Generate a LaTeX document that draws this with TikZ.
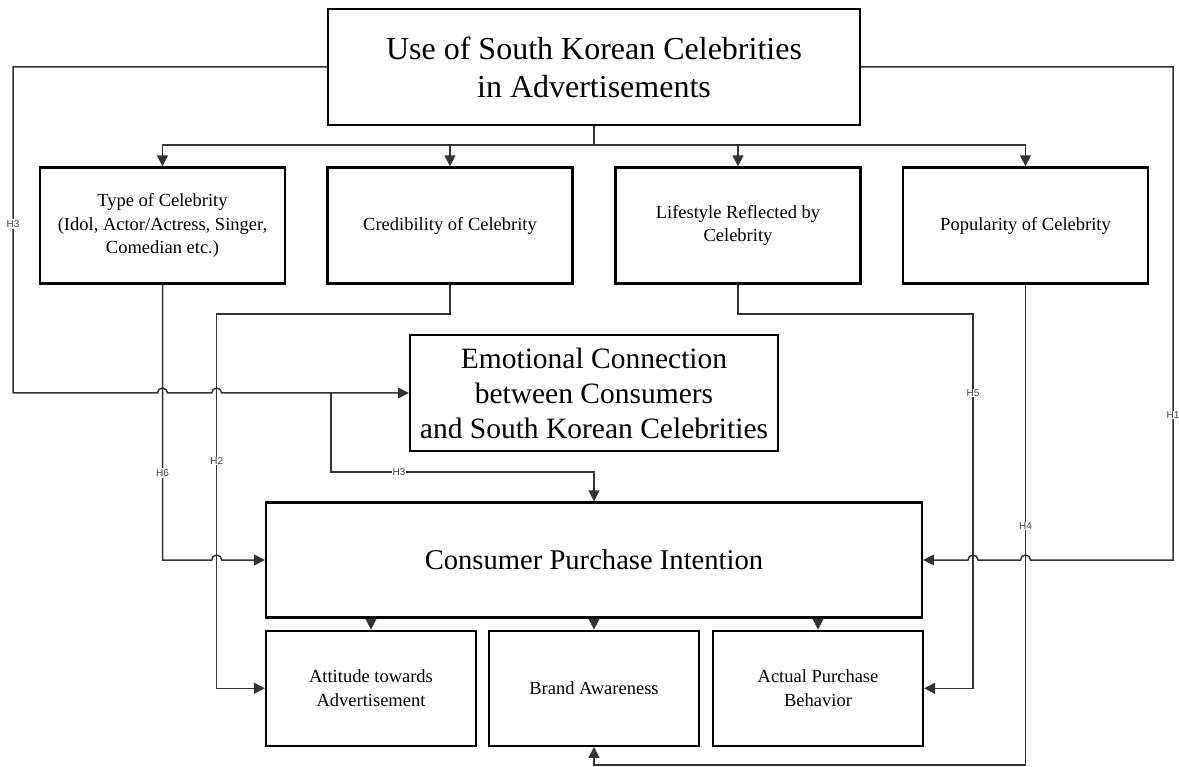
\documentclass[tikz,border=0pt]{standalone}
\usepackage{fontspec}
\setmainfont{Liberation Serif}
\newfontfamily\labfont{Liberation Sans}
\usetikzlibrary{arrows.meta}
\begin{document}
\begin{tikzpicture}[x=1pt,y=-1pt,
  box/.style={draw=black, line width=2.3pt, rectangle, inner sep=0pt, align=center},
  conn/.style={draw=black!80, line width=1.5pt},
  arr/.style={conn, -{Triangle[length=11pt,width=11pt]}},
  hlab/.style={fill=white, inner sep=1pt, font=\labfont\fontsize{10}{12}\selectfont, text=black!75},
  small/.style={font=\fontsize{18.5}{23.5}\selectfont}
]
\useasboundingbox (0,0) rectangle (1179,767);

\node[box, minimum width=532pt, minimum height=116pt, font=\fontsize{32}{38}\selectfont] (top) at (594,67) {Use of South Korean Celebrities\\in Advertisements};

\node[box, small, minimum width=245pt, minimum height=116pt] (type) at (162.5,225.5) {Type of Celebrity\\(Idol, Actor/Actress, Singer,\\Comedian etc.)};
\node[box, small, minimum width=245pt, minimum height=116pt] (cred) at (450,225.5) {Credibility of Celebrity};
\node[box, small, minimum width=245pt, minimum height=116pt] (life) at (738,225.5) {Lifestyle Reflected by\\Celebrity};
\node[box, small, minimum width=245pt, minimum height=116pt] (pop) at (1025.5,225.5) {Popularity of Celebrity};

\node[box, minimum width=368pt, minimum height=116pt, font=\fontsize{29.5}{35}\selectfont] (emo) at (594,393) {Emotional Connection\\between Consumers\\and South Korean Celebrities};

\node[box, minimum width=656pt, minimum height=115pt, font=\fontsize{28.6}{34}\selectfont] (cpi) at (594,560) {Consumer Purchase Intention};

\node[box, small, minimum width=210pt, minimum height=115pt] (att) at (371,688.3) {Attitude towards\\Advertisement};
\node[box, small, minimum width=210pt, minimum height=115pt] (brand) at (594,688.3) {Brand Awareness};
\node[box, small, minimum width=210pt, minimum height=115pt] (act) at (818,688.3) {Actual Purchase\\Behavior};

% top branching
\coordinate (br) at (594,145);
\draw[conn] (top.south) -- (br);
\foreach \n in {type,cred,life,pop} \draw[arr] (br) -| (\n.north);

% H3 (left, to emotional connection)
\draw[arr] (top.west) -- (13,67) -- (13,393) -- (157.5,393)
  arc[start angle=180,end angle=360,radius=5] -- (211.7,393)
  arc[start angle=180,end angle=360,radius=5] -- (emo.west);

% H3 (emotional connection to CPI)
\coordinate (j3) at (331,393);
\draw[arr] (j3) -- (331,472) -| (cpi.north);

% H6
\draw[arr] (type.south) -- (162.5,560) -- (211.7,560)
  arc[start angle=180,end angle=360,radius=5] -- (cpi.west);

% H2
\draw[arr] (cred.south) -- (450,314) -- (216.7,314) -- (216.7,688.3) -- (att.west);

% H5
\draw[arr] (life.south) -- (738,314) -- (973,314) -- (973,688.3) -- (act.east);

% H4
\draw[arr] (pop.south) -- (1025.5,765) -- (594,765) -- (brand.south);

% H1
\draw[arr] (top.east) -- (1173,67) -- (1173,560) -- (1030.5,560)
  arc[start angle=0,end angle=-180,radius=5] -- (978,560)
  arc[start angle=0,end angle=-180,radius=5] -- (cpi.east);

% CPI to outcomes
\foreach \n in {att,brand,act} \draw[arr] (\n.north |- cpi.south) -- (\n.north);

% labels
\node[hlab] (l3a) at (13,224) {H3};
\node[hlab] (l3b) at (399,472) {H3};
\node[hlab] (l6) at (162.5,473) {H6};
\node[hlab] (l2) at (216.7,461) {H2};
\node[hlab] (l5) at (973,393) {H5};
\node[hlab] (l1) at (1173,415) {H1};
\node[hlab] (l4) at (1025.5,526) {H4};
\end{tikzpicture}
\end{document}
